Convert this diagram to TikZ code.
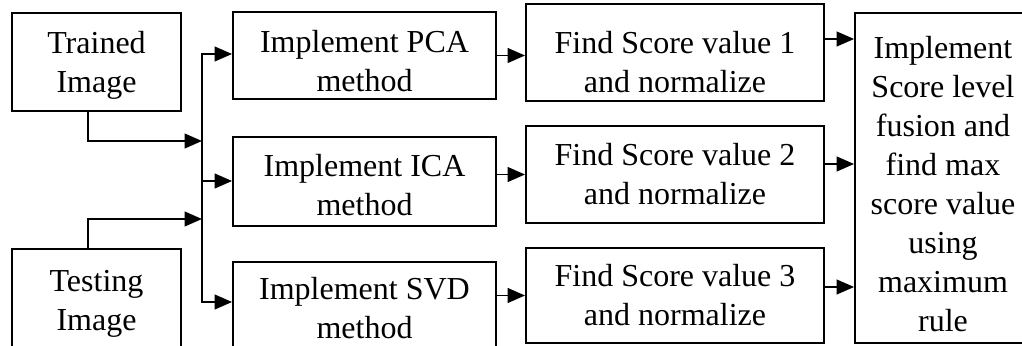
\documentclass[tikz,border=0pt]{standalone}
\usepackage{fontspec}
\setmainfont{Liberation Serif}
\usetikzlibrary{arrows.meta,calc}
\def\px{0.75pt}

\begin{document}
\begin{tikzpicture}
    [x=\px, y=\px,
    block/.style={draw, rectangle, line width=1.4pt, inner sep=0pt, align=center,
        font=\fontsize{24}{29.25}\selectfont},
    link/.style={line width=1.4pt, -{Triangle[length=13pt,width=11pt]}},
    wire/.style={line width=1.4pt}]
    \clip (0,0) rectangle (1022,346);

    % input images
    \node[block, minimum width=169*\px, minimum height=98*\px, text height=50.2pt] (trained) at (96.5,284) {Trained\\Image};
    \node[block, minimum width=169*\px, minimum height=102*\px, text height=51.2pt] (testing) at (96.5,46) {Testing\\Image};

    % methods
    \node[block, minimum width=263*\px, minimum height=87*\px, text height=54.7pt] (pca) at (364.5,290.5) {Implement PCA\\method};
    \node[block, minimum width=263*\px, minimum height=89*\px, text height=51.7pt] (ica) at (364.5,164.5) {Implement ICA\\method};
    \node[block, minimum width=263*\px, minimum height=90*\px, text height=47.9pt] (svd) at (364.5,39) {Implement SVD\\method};

    % scores
    \node[block, minimum width=298*\px, minimum height=97*\px, text height=60.7pt] (score1) at (675,293.5) {Find Score value 1\\and normalize};
    \node[block, minimum width=298*\px, minimum height=97*\px] (score2) at (675,171.5) {Find Score value 2\\and normalize};
    \node[block, minimum width=298*\px, minimum height=95*\px] (score3) at (675,50.5) {Find Score value 3\\and normalize};

    % fusion
    \node[block, minimum width=176*\px, minimum height=330*\px, text height=230.2pt] (fusion) at (943,168)
        {Implement\\Score level\\fusion and\\find max\\score value\\using\\maximum\\rule};

    \coordinate (bustop) at (202,292);
    \coordinate (busmid) at (202,165);
    \coordinate (busbot) at (202,44);
    \coordinate (trainturn) at (88,205);
    \coordinate (testturn) at (88,127);

    \draw[link] (trained.south -| trainturn) -- (trainturn) -- (trainturn -| busmid);
    \draw[link] (testing.north -| testturn) -- (testturn) -- (testturn -| busmid);

    \draw[link] (busmid) -- (bustop) -- (pca.west |- bustop);
    \draw[link] (busmid) -- (ica.west |- busmid);
    \draw[link] (busmid) -- (busbot) -- (svd.west |- busbot);

    \draw[link] (pca.east) -- (score1.west |- pca.east);
    \draw[link] (ica.east |- score2.west) -- (score2.west);
    \draw[link] (svd.east |- score3.west) -- (score3.west);

    \coordinate (out1) at ($(score1.east)+(0,13.5)$);
    \coordinate (out2) at ($(score2.east)+(0,10.5)$);
    \coordinate (out3) at ($(score3.east)+(0,8.5)$);
    \draw[link] (out1) -- (out1 -| fusion.west);
    \draw[link] (out2) -- (out2 -| fusion.west);
    \draw[link] (out3) -- (out3 -| fusion.west);
\end{tikzpicture}
\end{document}
